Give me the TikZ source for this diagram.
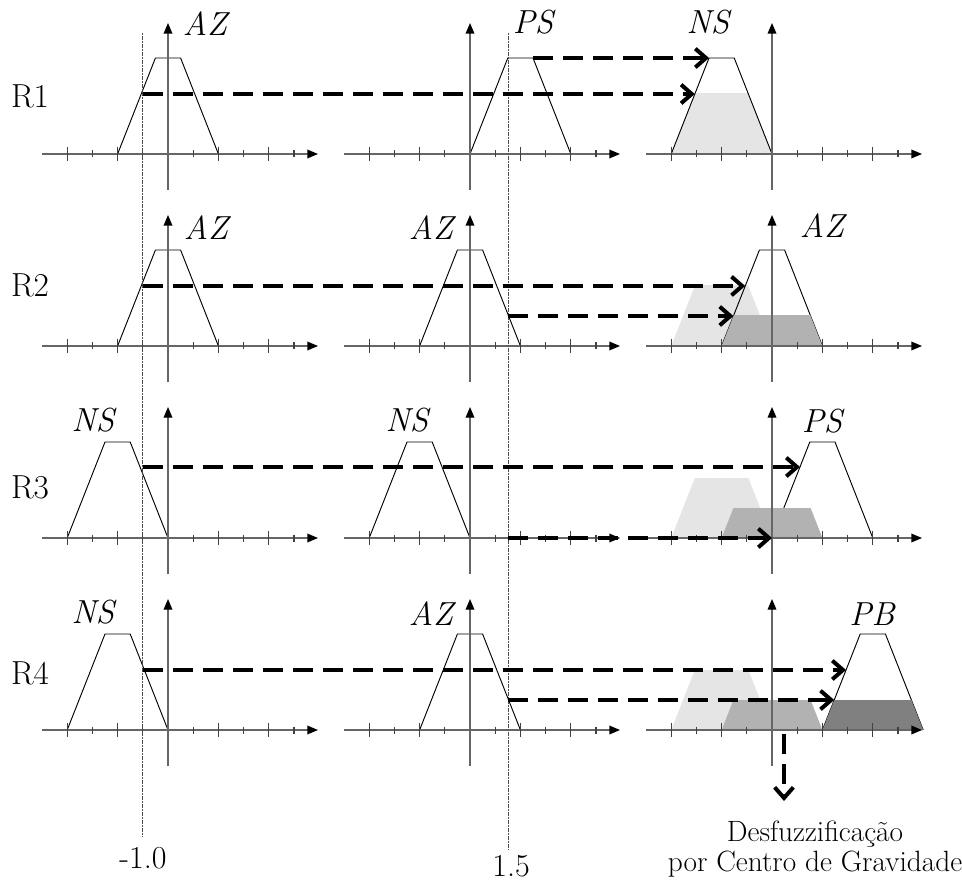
\documentclass[tikz,border=0pt]{standalone}
\usepackage{fontspec}
\usetikzlibrary{arrows.meta}
\newcommand\drawaxes[2]{%
  \draw[axisarrow] ({#1-126},#2) -- ({#1+150},#2);
  \draw[axisarrow] (#1,{#2+36}) -- (#1,{#2-131});
  \foreach \k in {-4,-2,2,4} \draw[tickmark] ({#1+\k*25.2},{#2-7}) -- ({#1+\k*25.2},{#2+7});
  \foreach \k in {-3,-1,1,3,5} \draw[tickmark] ({#1+\k*25.2},{#2-3.5}) -- ({#1+\k*25.2},{#2+3.5});
}
\newcommand\trapez[7]{%
  \path[#1] ({#2+#4*25.2},#3) -- ({#2+#5*25.2},{#3-96}) -- ({#2+#6*25.2},{#3-96}) -- ({#2+#7*25.2},#3);}
\newcommand\cutfill[8]{%
  \begin{scope}
    \clip ({#2-200},#3) rectangle ({#2+200},{#3-#4});
    \fill[#1] ({#2+#5*25.2},#3) -- ({#2+#6*25.2},{#3-96}) -- ({#2+#7*25.2},{#3-96}) -- ({#2+#8*25.2},#3) -- cycle;
  \end{scope}}
\begin{document}
\begin{tikzpicture}[x=0.75pt,y=-0.75pt,
  axisline/.style={draw=black!60, line width=1pt},
  axisarrow/.style={axisline, -{Triangle[length=8pt,width=6.5pt,color=black]}},
  tickmark/.style={draw=black!75, line width=0.9pt},
  mf/.style={draw=black, line width=0.7pt, line join=miter},
  cutarrow/.style={line width=3pt, dash pattern=on 15pt off 7.5pt,
    -{Straight Barb[length=8pt,width=14pt]}},
  guide/.style={draw=black!70, line width=0.6pt, dash pattern=on 1.5pt off 0.5pt},
  lab/.style={font=\fontsize{25}{28}\selectfont\itshape, inner sep=0pt},
  rlab/.style={font=\fontsize{25}{28}\selectfont, inner sep=0pt},
  numlab/.style={font=\fontsize{24}{28}\selectfont, inner sep=0pt},
  light/.style={fill=black!10},
  medium/.style={fill=black!30},
  dark/.style={fill=black!50}
]
\useasboundingbox (0,0) rectangle (962,887);

% ---------- output column fills and outlines ----------
% Row 1
\cutfill{light}{772}{154}{60}{-4}{-2.5}{-1.5}{0}
\trapez{mf}{772}{154}{-4}{-2.5}{-1.5}{0}
% Row 2
\cutfill{light}{772}{346}{60}{-4}{-2.5}{-1.5}{0}
\trapez{mf}{772}{346}{-2}{-0.5}{0.5}{2}
\cutfill{medium}{772}{346}{30}{-2}{-0.5}{0.5}{2}
% Row 3
\cutfill{light}{772}{538}{60}{-4}{-2.5}{-1.5}{0}
\trapez{mf}{772}{538}{0}{1.5}{2.5}{4}
\cutfill{medium}{772}{538}{30}{-2}{-0.5}{0.5}{2}
% Row 4
\cutfill{light}{772}{730}{60}{-4}{-2.5}{-1.5}{0}
\trapez{mf}{772}{730}{2}{3.5}{4.5}{6}
\cutfill{medium}{772}{730}{30}{-2}{-0.5}{0.5}{2}
\cutfill{dark}{772}{730}{30}{2}{3.5}{4.5}{6}

% ---------- input membership functions ----------
\trapez{mf}{168}{154}{-2}{-0.5}{0.5}{2}
\trapez{mf}{470}{154}{0}{1.5}{2.5}{4}
\trapez{mf}{168}{346}{-2}{-0.5}{0.5}{2}
\trapez{mf}{470}{346}{-2}{-0.5}{0.5}{2}
\trapez{mf}{168}{538}{-4}{-2.5}{-1.5}{0}
\trapez{mf}{470}{538}{-4}{-2.5}{-1.5}{0}
\trapez{mf}{168}{730}{-4}{-2.5}{-1.5}{0}
\trapez{mf}{470}{730}{-2}{-0.5}{0.5}{2}

% ---------- axes ----------
\foreach \bx in {168,470,772}
  \foreach \by in {154,346,538,730}
    {\drawaxes{\bx}{\by}}

% ---------- guide lines ----------
\coordinate (gAtop) at (142.8,33);
\coordinate (gAbot) at (142.8,837);
\coordinate (gBtop) at (508,33);
\coordinate (gBbot) at (508,850);
\draw[guide] (gAtop) -- (gAbot);
\draw[guide] (gBtop) -- (gBbot);
\node[numlab] (vA) at (143,858) {-1.0};
\node[numlab] (vB) at (511,866) {1.5};

% ---------- labels ----------
\node[rlab] (R1) at (30,96) {R1};
\node[rlab] (R2) at (30,285) {R2};
\node[rlab] (R3) at (30,487) {R3};
\node[rlab] (R4) at (30,673) {R4};

\node[lab] (l11) at (205,24) {AZ};
\node[lab] (l12) at (533,22) {PS};
\node[lab] (l13) at (708,22) {NS};
\node[lab] (l21) at (206,228) {AZ};
\node[lab] (l22) at (431,228) {AZ};
\node[lab] (l23) at (822,226) {AZ};
\node[lab] (l31) at (93,420) {NS};
\node[lab] (l32) at (407,420) {NS};
\node[lab] (l33) at (822,421) {PS};
\node[lab] (l41) at (93,612) {NS};
\node[lab] (l42) at (431,614) {AZ};
\node[lab] (l43) at (872,614) {PB};

% ---------- implication arrows ----------
\coordinate (a1s) at (533,58);   \coordinate (a1e) at (709,58);
\coordinate (b1s) at (142.8,94); \coordinate (b1e) at (694.8,94);
\coordinate (a2s) at (142.8,286);\coordinate (a2e) at (745.2,286);
\coordinate (b2s) at (508,316);  \coordinate (b2e) at (733.4,316);
\coordinate (a3s) at (142.8,467);\coordinate (a3e) at (800,467);
\coordinate (b3s) at (508,538);  \coordinate (b3e) at (772,538);
\coordinate (a4s) at (142.8,670);\coordinate (a4e) at (846,670);
\coordinate (b4s) at (508,700);  \coordinate (b4e) at (834.2,700);
\coordinate (ds) at (784,734);   \coordinate (de) at (784,801);
\foreach \p in {a1,b1,a2,b2,a3,b3,a4,b4,d}
  \draw[cutarrow] (\p s) -- (\p e);

\node[numlab, align=center, font=\fontsize{22}{23}\selectfont] (defuz) at (815,849)
  {Desfuzzificação\\por Centro de Gravidade};
\end{tikzpicture}
\end{document}
